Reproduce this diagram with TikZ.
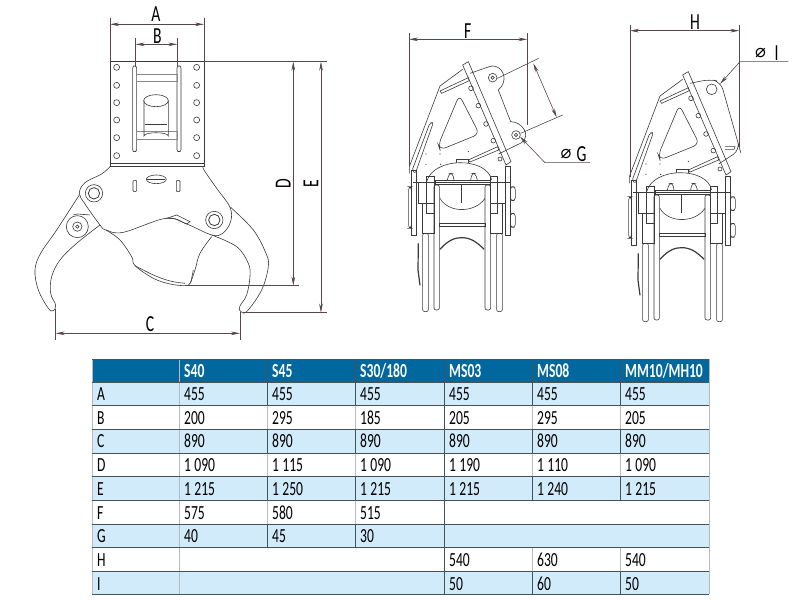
\documentclass[tikz,border=0pt]{standalone}
\usepackage{fontspec}
\usetikzlibrary{calc, arrows.meta}
\newfontfamily\narrowfont[FakeStretch=0.68]{Carlito}
\newfontfamily\symbolfont{DejaVu Sans}
\definecolor{headblue}{HTML}{00689F}
\definecolor{rowblue}{HTML}{D2EBFB}
\definecolor{gridline}{HTML}{44525C}
\definecolor{dimcolor}{HTML}{5A4648}
\definecolor{partline}{HTML}{3A3A3A}

% side view of the frame, shared by the two right-hand views
\newcommand{\grabview}{
    % plate
    \draw[part] (58,490) -- (58,470) -- (150,228) -- (218,178);
    \draw[part] (218,165) -- (235,155) -- (363,455) -- (348,465) -- cycle;
    \draw[part, rounded corners=6] (208,255) -- (268,372) -- (150,420) -- (145,405) -- cycle;
    \draw[part, rounded corners=2] (130,338) -- (120,338) -- (66,482) -- (76,490) -- cycle;
    \draw[part] (150,243) -- (235,203) -- (238,212) -- (155,250) -- cycle;
    \draw[part] (235,450) -- (323,410) -- (326,420) -- (240,456) -- cycle;
    \draw[part] (243,235) circle (7);
    \draw[part] (265,287) circle (7);
    \draw[part] (288,342) circle (7);
    \draw[part] (310,392) circle (7);
    \draw[part] (330,447) circle (6);
    \fill[partline] (108,432) circle (2);
    \fill[partline] (150,432) circle (2);
    \fill[partline] (108,463) circle (2);
    \fill[partline] (152,463) circle (2);
    \fill[partline] (235,425) circle (2);
    % dome and cradle
    \draw[part] (110,515) .. controls (130,440) and (290,440) .. (305,510);
    \draw[part] (200,458) -- (200,447) -- (235,447) -- (235,458);
    \draw[part] (70,518) -- (362,518);
    \draw[part] (135,510) rectangle (302,522);
    \draw[part] (150,565) .. controls (175,610) and (255,610) .. (285,565);
    \draw[part] (215,522) -- (215,580);
    \draw[part, rounded corners=3] (172,510) -- (178,490) -- (188,490) -- (192,510);
    \draw[part, rounded corners=3] (242,510) -- (246,490) -- (256,490) -- (262,510);
    \draw[part] (148,640) rectangle (285,650);
    \draw[very thick, partline] (150,718) .. controls (175,690) and (195,683) .. (215,683) .. controls (240,683) and (260,695) .. (282,718);
    % legs and side blocks
    \draw[part, rounded corners=2] (132,525) rectangle (148,900);
    \draw[part, rounded corners=2] (285,525) rectangle (302,900);
    \draw[part, rounded corners=2] (98,670) rectangle (115,905);
    \draw[part, rounded corners=2] (320,670) rectangle (337,905);
    \draw[part] (110,500) rectangle (132,610);
    \draw[part] (302,500) rectangle (322,610);
    \draw[part] (85,518) rectangle (110,580);
    \draw[part] (322,518) rectangle (345,580);
    \draw[part] (98,580) rectangle (132,670);
    \draw[part] (302,580) rectangle (337,670);
    \draw[part] (64,480) rectangle (80,676);
    \draw[part] (347,470) rectangle (361,676);
    \draw[part, rounded corners=3] (361,530) rectangle (376,572);
    \draw[part, rounded corners=3] (361,610) rectangle (376,652);
    \draw[part, rounded corners=3] (56,530) rectangle (64,655);
    \draw[very thick, partline] (85,700) -- (84,780) -- (90,826);
}

\begin{document}
\begin{tikzpicture}[x=1pt, y=-1pt]
    \tikzstyle{part} = [draw=partline, line width=.6pt]
    \tikzstyle{dim} = [draw=dimcolor, line width=.6pt]
    \tikzstyle{dimarrow} = [dim, {Stealth[length=9pt, width=3.6pt]}-{Stealth[length=9pt, width=3.6pt]}]
    \tikzstyle{leader} = [dim, {Stealth[length=9pt, width=3.6pt]}-]
    \tikzstyle{dimlabel} = [inner sep=0pt, font=\narrowfont\fontsize{23}{23}\selectfont]
    \tikzstyle{phi} = [inner sep=0pt, font=\symbolfont\fontsize{18}{18}\selectfont]
    \tikzstyle{cell} = [inner sep=0pt, anchor=base west, font=\narrowfont\fontsize{20}{20}\selectfont]
    \tikzstyle{head} = [cell, text=white, font=\narrowfont\bfseries\fontsize{20}{20}\selectfont]
    \tikzstyle{grid} = [draw=gridline, line width=.8pt]
    \tikzstyle{softgrid} = [draw=gridline!40, line width=.8pt]

    \useasboundingbox (0, 0) rectangle (800, 600);

    % Front view ----------------------------------------
    \begin{scope}[shift={(20, 0)}, x=.3333pt, y=-.3333pt]
        \draw[part] (270,185) rectangle (552,490);
        \draw[part] (270,490) rectangle (552,500);
        \draw[part] (290,202) circle (9);
        \draw[part] (290,256) circle (9);
        \draw[part] (290,308) circle (9);
        \draw[part] (290,360) circle (9);
        \draw[part] (290,413) circle (9);
        \draw[part] (290,467) circle (9);
        \draw[part] (530,202) circle (9);
        \draw[part] (530,256) circle (9);
        \draw[part] (530,308) circle (9);
        \draw[part] (530,360) circle (9);
        \draw[part] (530,413) circle (9);
        \draw[part] (530,467) circle (9);

        \draw[part, rounded corners=2] (338,198) rectangle (350,455);
        \draw[part, rounded corners=2] (471,198) rectangle (483,455);
        \draw[part, partline!60] (350,222) rectangle (471,245);
        \draw[part, partline!60] (350,395) rectangle (471,418);
        \draw[part, rounded corners=12] (372,302) -- (372,372) .. controls (372,395) and (445,395) .. (445,372) -- (445,302);
        \draw[part] (408,302) ellipse (37 and 18);
        \draw[part] (376,372) -- (441,372);

        % body
        \draw[part] plot[smooth, tension=.6] coordinates {(270,500) (245,522) (195,548) (178,580) (195,612) (240,675) (258,690) (310,697) (437,655) (500,672) (575,705) (608,700) (632,665) (630,622) (590,565) (552,510) (550,500)};
        \draw[part, rounded corners=1] (339,541) rectangle (350,575);
        \draw[part, rounded corners=1] (469,541) rectangle (480,575);
        \draw[part] (409,538) ellipse (30 and 13);
        \draw[part] (382,538) -- (436,538);
        \draw[part] (222,580) circle (26);
        \draw[part, thick] (222,580) circle (17);
        \draw[part] (583,660) circle (26);
        \draw[part, thick] (583,660) circle (17);
        \draw[part] (440,655) -- (470,645) -- (510,665) -- (500,672) -- (465,656) -- cycle;

        % claws
        \draw[part] plot[smooth, tension=.6] coordinates {(178,585) (110,690) (62,760) (45,810) (55,870) (85,925) (100,932) (107,915) (92,880) (95,830) (120,780) (170,730) (240,675)};
        \draw[part] plot[smooth, tension=.6] coordinates {(632,622) (700,690) (738,760) (745,800) (725,870) (680,935) (660,932) (660,918) (680,885) (690,830) (685,790) (650,740) (575,705)};
        \draw[part] (172,680) circle (33);
        \draw[part] (172,680) circle (14);
        \draw[part] (172,680) circle (5);
        \draw[part] (160,645) -- (172,642) -- (210,645);

        % centre piece
        \draw[part] plot[smooth, tension=.6] coordinates {(258,690) (300,720) (335,770) (345,797) (400,835) (450,852) (495,857) (510,850) (525,810) (540,760) (575,710)};
        \draw[part] plot[smooth, tension=.6] coordinates {(345,797) (400,825) (450,843) (495,850)};
        \draw[part] (520,810) -- (512,850);

        % dimensions
        \coordinate (dimA1) at (270,73);
        \coordinate (dimA2) at (552,73);
        \coordinate (dimB1) at (347,133);
        \coordinate (dimB2) at (472,133);
        \coordinate (dimC1) at (107,1000);
        \coordinate (dimC2) at (660,1000);
        \coordinate (dimD1) at (820,185);
        \coordinate (dimD2) at (820,857);
        \coordinate (dimE1) at (903,185);
        \coordinate (dimE2) at (903,938);
        \draw[dim] ($(dimA1) + (0,-18)$) -- ($(dimA1) + (0,112)$);
        \draw[dim] ($(dimA2) + (0,-18)$) -- ($(dimA2) + (0,112)$);
        \draw[dim] ($(dimB1) + (0,-18)$) -- ($(dimB1) + (0,67)$);
        \draw[dim] ($(dimB2) + (0,-18)$) -- ($(dimB2) + (0,67)$);
        \draw[dim] ($(dimC1) + (0,-72)$) -- ($(dimC1) + (0,20)$);
        \draw[dim] ($(dimC2) + (0,-65)$) -- ($(dimC2) + (0,20)$);
        \draw[dim] ($(dimD1) + (-268,0)$) -- ($(dimE1) + (17,0)$);
        \draw[dim] ($(dimD2) + (-325,0)$) -- ($(dimD2) + (18,0)$);
        \draw[dim] ($(dimE2) + (-233,0)$) -- ($(dimE2) + (17,0)$);
        \draw[dimarrow] (dimA1) -- (dimA2);
        \draw[dimarrow] (dimB1) -- (dimB2);
        \draw[dimarrow] (dimC1) -- (dimC2);
        \draw[dimarrow] (dimD1) -- (dimD2);
        \draw[dimarrow] (dimE1) -- (dimE2);
        \node[dimlabel] (labelA) at (408,42) {A};
        \node[dimlabel] (labelB) at (412,107) {B};
        \node[dimlabel] (labelC) at (390,972) {C};
        \node[dimlabel, rotate=90] (labelD) at (790,550) {D};
        \node[dimlabel, rotate=90] (labelE) at (873,550) {E};
    \end{scope}

    % Side view with two holes ---------------------------
    \begin{scope}[shift={(390, 10)}, x=.3333pt, y=-.3333pt]
        \grabview
        \draw[part] (240,190) -- (298,170) .. controls (325,160) and (350,190) .. (340,218) .. controls (335,235) and (325,235) .. (325,240) -- (362,335) .. controls (395,335) and (425,375) .. (395,398) -- (326,432);
        \draw[part] (308,203) circle (13);
        \draw[part] (308,203) circle (5);
        \draw[part] (378,375) circle (13);
        \draw[part] (378,375) circle (5);

        \coordinate (dimF1) at (57,88);
        \coordinate (dimF2) at (412,88);
        \coordinate (dimG1) at (430,160);
        \coordinate (dimG2) at (500,322);
        \coordinate (holeG) at (390,380);
        \coordinate (kneeG) at (465,458);
        \coordinate (endG) at (600,458);
        \draw[dim] ($(dimF1) + (0,-18)$) -- ($(dimF1) + (0,382)$);
        \draw[dim] ($(dimF2) + (0,-18)$) -- ($(dimF2) + (0,257)$);
        \draw[dim] (322,205) -- (446,145);
        \draw[dim] (392,370) -- (518,315);
        \draw[dimarrow] (dimG1) -- (dimG2);
        \draw[dimarrow] (dimF1) -- (dimF2);
        \draw[leader] (holeG) -- (kneeG) -- (endG);
        \node[dimlabel] (labelF) at (233,62) {F};
        \node[phi] (phiG) at (528,432) {⌀};
        \node[dimlabel] (labelG) at (575,432) {G};
    \end{scope}

    % Side view with one hole ----------------------------
    \begin{scope}[shift={(610, 10)}, x=.3333pt, y=-.3333pt]
        \begin{scope}[shift={(0, 30)}]
            \grabview
            \draw[part, rounded corners=8] (240,190) -- (298,178) -- (332,185) -- (386,375) -- (390,390) -- (326,432);
            \draw[part] (305,208) circle (16);
            \draw[part] (345,380) -- (375,380) -- (372,388) -- (345,388);
        \end{scope}

        \coordinate (dimH1) at (60,62);
        \coordinate (dimH2) at (388,62);
        \coordinate (holeI) at (330,222);
        \coordinate (kneeI) at (390,155);
        \coordinate (endI) at (535,155);
        \draw[dim] ($(dimH1) + (0,-18)$) -- ($(dimH1) + (0,440)$);
        \draw[dim] ($(dimH2) + (0,-18)$) -- ($(dimH2) + (0,348)$);
        \draw[dimarrow] (dimH1) -- (dimH2);
        \draw[leader] (holeI) -- (kneeI) -- (endI);
        \node[dimlabel] (labelH) at (255,35) {H};
        \node[phi] (phiI) at (452,130) {⌀};
        \node[dimlabel] (labelI) at (500,130) {I};
    \end{scope}

    % Table background -----------------------------------
    \fill[headblue] (92, 359) rectangle (709, 382);
    \fill[rowblue] (92, 382) rectangle (709, 405);
    \fill[rowblue] (92, 429) rectangle (709, 453);
    \fill[rowblue] (92, 476) rectangle (709, 500);
    \fill[rowblue] (92, 524) rectangle (709, 547);
    \fill[rowblue] (92, 571) rectangle (709, 594);

    % Table lines
    \draw[softgrid] (92, 359) -- (92, 594);
    \draw[softgrid] (179, 359) -- (179, 594);
    \draw[softgrid] (267, 359) -- (267, 547);
    \draw[softgrid] (355, 359) -- (355, 547);
    \draw[softgrid] (532, 359) -- (532, 500);
    \draw[softgrid] (532, 547) -- (532, 594);
    \draw[softgrid] (620, 359) -- (620, 500);
    \draw[softgrid] (620, 547) -- (620, 594);
    \draw[softgrid] (709, 359) -- (709, 594);
    \draw[grid] (267, 359) -- (267, 405) (267, 429) -- (267, 453) (267, 476) -- (267, 500) (267, 524) -- (267, 547);
    \draw[grid] (355, 359) -- (355, 405) (355, 429) -- (355, 453) (355, 476) -- (355, 500) (355, 524) -- (355, 547);
    \draw[grid] (444, 359) -- (444, 594);
    \draw[grid] (532, 359) -- (532, 405) (532, 429) -- (532, 453) (532, 476) -- (532, 500) (532, 571) -- (532, 594);
    \draw[grid] (620, 359) -- (620, 405) (620, 429) -- (620, 453) (620, 476) -- (620, 500) (620, 571) -- (620, 594);
    \draw[grid] (92, 359) -- (709, 359);
    \draw[grid] (92, 382) -- (709, 382);
    \draw[grid] (92, 405) -- (709, 405);
    \draw[grid] (92, 429) -- (709, 429);
    \draw[grid] (92, 453) -- (709, 453);
    \draw[grid] (92, 476) -- (709, 476);
    \draw[grid] (92, 500) -- (709, 500);
    \draw[grid] (92, 524) -- (709, 524);
    \draw[grid] (92, 547) -- (709, 547);
    \draw[grid] (92, 571) -- (709, 571);
    \draw[grid] (92, 594) -- (709, 594);

    % Table texts
    \node[head] (S40) at (184, 377) {S40};
    \node[head] (S45) at ($(S40.base west) + (88, 0)$) {S45};
    \node[head] (S30) at ($(S45.base west) + (88, 0)$) {S30/180};
    \node[head] (MS03) at ($(S30.base west) + (89, 0)$) {MS03};
    \node[head] (MS08) at ($(MS03.base west) + (88, 0)$) {MS08};
    \node[head] (MM10) at ($(MS08.base west) + (88, 0)$) {MM10/MH10};

    \node[cell] (A) at (97, 400.5) {A};
    \node[cell] (A1) at (184, 400.5) {455};
    \node[cell] (A2) at ($(A1.base west) + (88, 0)$) {455};
    \node[cell] (A3) at ($(A2.base west) + (88, 0)$) {455};
    \node[cell] (A4) at ($(A3.base west) + (89, 0)$) {455};
    \node[cell] (A5) at ($(A4.base west) + (88, 0)$) {455};
    \node[cell] (A6) at ($(A5.base west) + (88, 0)$) {455};

    \node[cell] (B) at ($(A.base west) + (0, 23.7)$) {B};
    \node[cell] (B1) at ($(A1.base west) + (0, 23.7)$) {200};
    \node[cell] (B2) at ($(B1.base west) + (88, 0)$) {295};
    \node[cell] (B3) at ($(B2.base west) + (88, 0)$) {185};
    \node[cell] (B4) at ($(B3.base west) + (89, 0)$) {205};
    \node[cell] (B5) at ($(B4.base west) + (88, 0)$) {295};
    \node[cell] (B6) at ($(B5.base west) + (88, 0)$) {205};

    \node[cell] (C) at ($(B.base west) + (0, 23.7)$) {C};
    \node[cell] (C1) at ($(B1.base west) + (0, 23.7)$) {890};
    \node[cell] (C2) at ($(C1.base west) + (88, 0)$) {890};
    \node[cell] (C3) at ($(C2.base west) + (88, 0)$) {890};
    \node[cell] (C4) at ($(C3.base west) + (89, 0)$) {890};
    \node[cell] (C5) at ($(C4.base west) + (88, 0)$) {890};
    \node[cell] (C6) at ($(C5.base west) + (88, 0)$) {890};

    \node[cell] (D) at ($(C.base west) + (0, 23.7)$) {D};
    \node[cell] (D1) at ($(C1.base west) + (0, 23.7)$) {1\,090};
    \node[cell] (D2) at ($(D1.base west) + (88, 0)$) {1\,115};
    \node[cell] (D3) at ($(D2.base west) + (88, 0)$) {1\,090};
    \node[cell] (D4) at ($(D3.base west) + (89, 0)$) {1\,190};
    \node[cell] (D5) at ($(D4.base west) + (88, 0)$) {1\,110};
    \node[cell] (D6) at ($(D5.base west) + (88, 0)$) {1\,090};

    \node[cell] (E) at ($(D.base west) + (0, 23.7)$) {E};
    \node[cell] (E1) at ($(D1.base west) + (0, 23.7)$) {1\,215};
    \node[cell] (E2) at ($(E1.base west) + (88, 0)$) {1\,250};
    \node[cell] (E3) at ($(E2.base west) + (88, 0)$) {1\,215};
    \node[cell] (E4) at ($(E3.base west) + (89, 0)$) {1\,215};
    \node[cell] (E5) at ($(E4.base west) + (88, 0)$) {1\,240};
    \node[cell] (E6) at ($(E5.base west) + (88, 0)$) {1\,215};

    \node[cell] (F) at ($(E.base west) + (0, 23.7)$) {F};
    \node[cell] (F1) at ($(E1.base west) + (0, 23.7)$) {575};
    \node[cell] (F2) at ($(F1.base west) + (88, 0)$) {580};
    \node[cell] (F3) at ($(F2.base west) + (88, 0)$) {515};

    \node[cell] (G) at ($(F.base west) + (0, 23.7)$) {G};
    \node[cell] (G1) at ($(F1.base west) + (0, 23.7)$) {40};
    \node[cell] (G2) at ($(G1.base west) + (88, 0)$) {45};
    \node[cell] (G3) at ($(G2.base west) + (88, 0)$) {30};

    \node[cell] (H) at ($(G.base west) + (0, 23.7)$) {H};
    \node[cell] (H4) at ($(G3.base west) + (89, 23.7)$) {540};
    \node[cell] (H5) at ($(H4.base west) + (88, 0)$) {630};
    \node[cell] (H6) at ($(H5.base west) + (88, 0)$) {540};

    \node[cell] (I) at ($(H.base west) + (0, 23.7)$) {I};
    \node[cell] (I4) at ($(H4.base west) + (0, 23.7)$) {50};
    \node[cell] (I5) at ($(I4.base west) + (88, 0)$) {60};
    \node[cell] (I6) at ($(I5.base west) + (88, 0)$) {50};
\end{tikzpicture}
\end{document}
